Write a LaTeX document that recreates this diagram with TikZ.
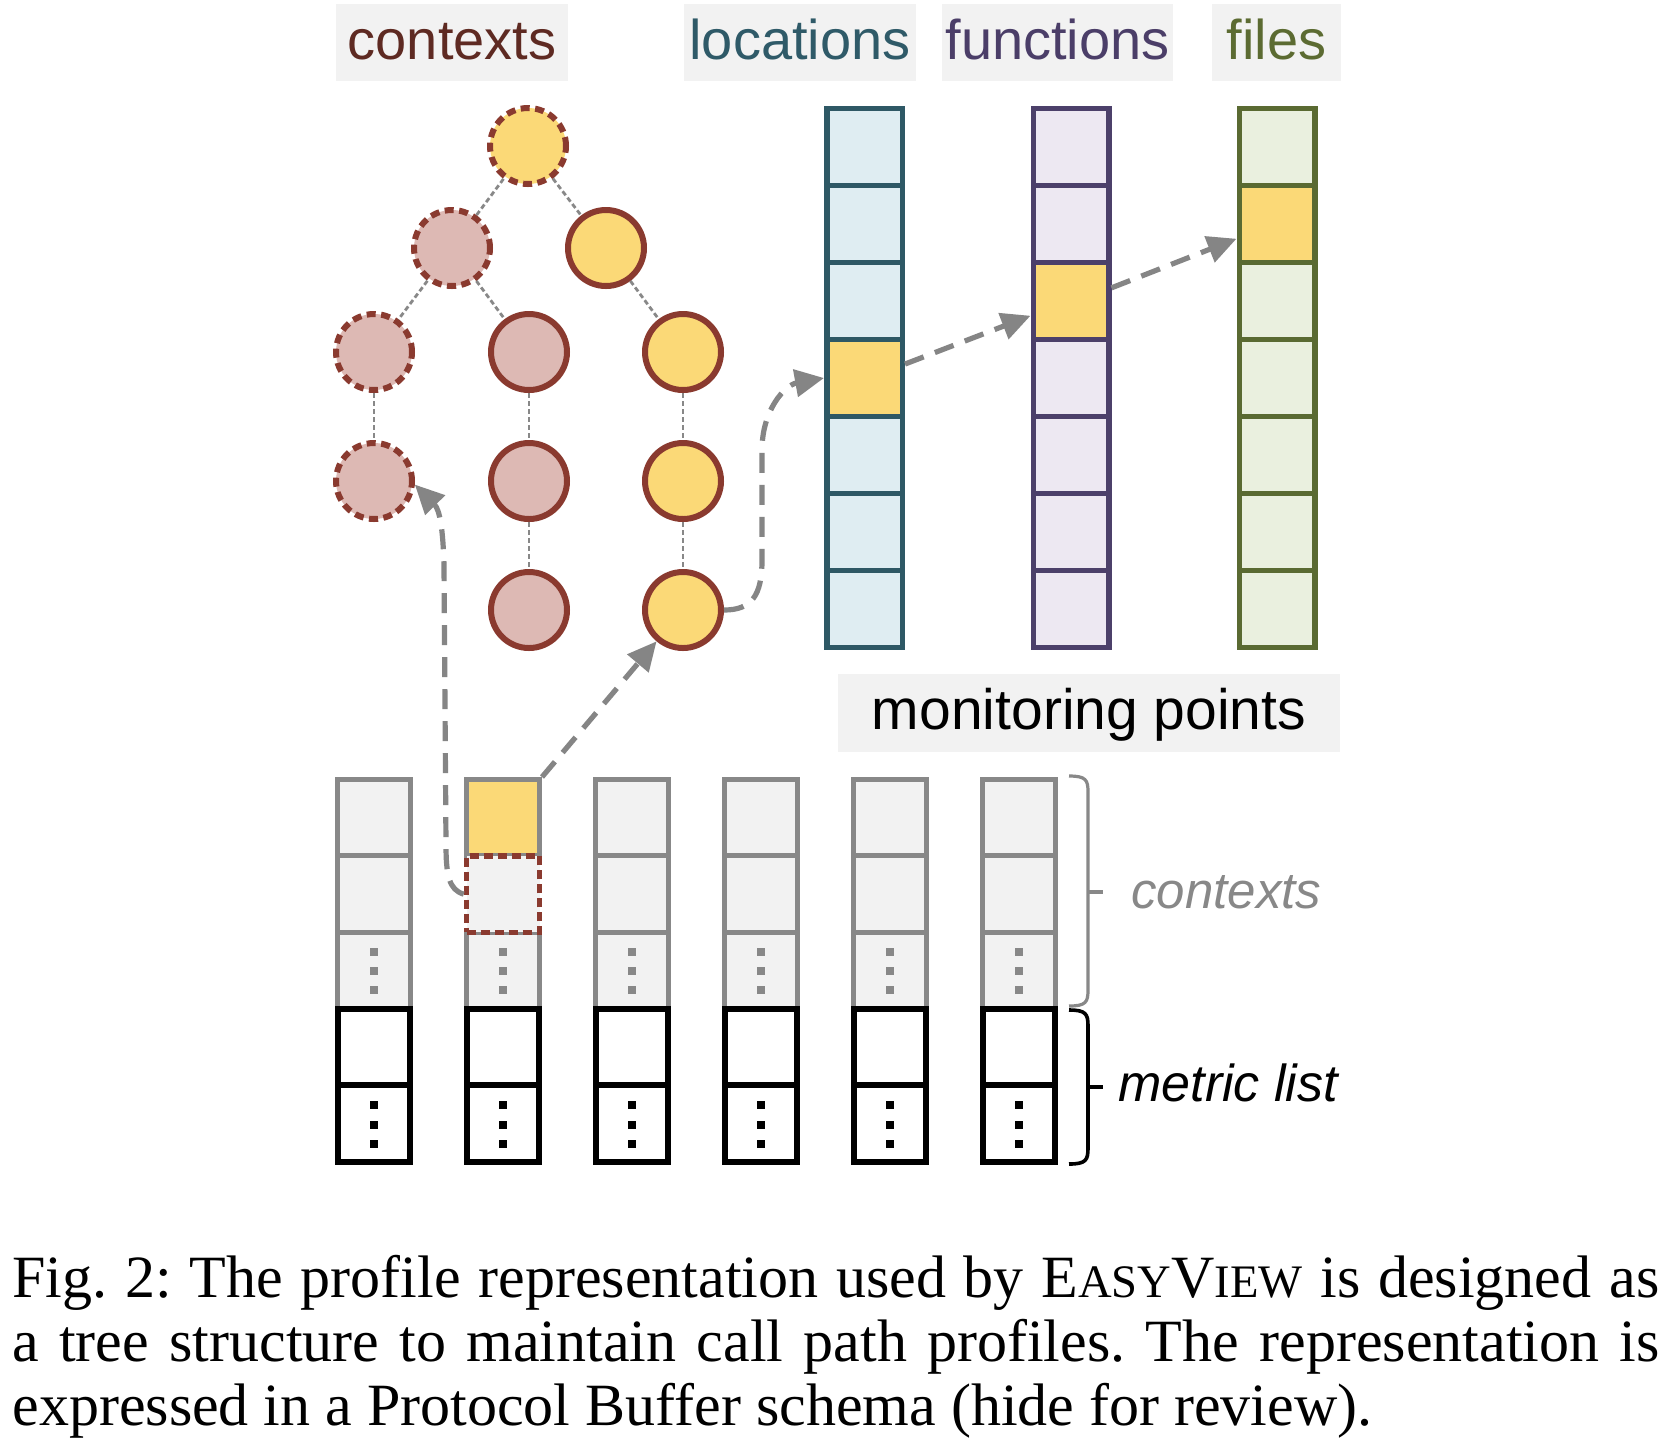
\documentclass[tikz,border=0pt]{standalone}
\usepackage{fontspec}
\setmainfont{Liberation Serif}
\newfontfamily\lsans{Liberation Sans}
\usetikzlibrary{arrows.meta,calc}

\definecolor{labbg}{HTML}{F2F2F2}
\definecolor{ctxtxt}{HTML}{5E2A22}
\definecolor{loctxt}{HTML}{2F5A68}
\definecolor{funtxt}{HTML}{4B3E68}
\definecolor{filtxt}{HTML}{5C6B32}
\definecolor{locline}{HTML}{2E5865}
\definecolor{locfill}{HTML}{DFEDF2}
\definecolor{funline}{HTML}{4C406A}
\definecolor{funfill}{HTML}{EDE8F2}
\definecolor{filline}{HTML}{5A6A32}
\definecolor{filfill}{HTML}{EAF0DF}
\definecolor{hiyellow}{HTML}{FBD977}
\definecolor{pinkfill}{HTML}{DDB9B4}
\definecolor{brownline}{HTML}{8A3A2F}
\definecolor{arrowgray}{HTML}{858585}
\definecolor{cellgray}{HTML}{888888}
\definecolor{cellfill}{HTML}{F2F2F2}

\newcommand\evsc{E{\fontsize{23.3}{24}\selectfont ASY}V{\fontsize{23.3}{24}\selectfont IEW}}
\frenchspacing

\begin{document}
\begin{tikzpicture}[x=0.5pt,y=-0.5pt,
  toplab/.style={fill=labbg, inner sep=0pt, minimum height=38.5pt,
    font=\lsans\fontsize{28}{32}\selectfont, text height=19.6pt, text depth=2.8pt},
  colcell/.style={line width=2.75pt, minimum width=37.75pt, minimum height=38.5pt, inner sep=0pt, draw},
  mpgray/.style={draw=cellgray, fill=cellfill, line width=2.5pt, minimum width=36.5pt,
    minimum height=38.2pt, inner sep=0pt},
  mpyellow/.style={mpgray, fill=hiyellow},
  mpdash/.style={mpgray, draw=brownline, line width=2.75pt, dash pattern=on 4.5pt off 2.5pt,
    preaction={draw=white, line width=2.75pt}},
  mpblack/.style={draw=black, fill=white, line width=3pt, minimum width=36.25pt,
    minimum height=38.2pt, inner sep=0pt},
  circ/.style={circle, draw=brownline, line width=3pt, minimum size=38pt, inner sep=0pt},
  pinkc/.style={circ, fill=pinkfill},
  yelc/.style={circ, fill=hiyellow},
  dsh/.style={dash pattern=on 4.5pt off 2.75pt},
  treeedge/.style={draw=cellgray, line width=1.4pt, dash pattern=on 2.5pt off 1.5pt},
  arr/.style={draw=arrowgray, line width=2.6pt, dash pattern=on 10pt off 6pt,
    -{Triangle[length=14.5pt,width=13.5pt]}},
  sidelab/.style={anchor=base west, inner sep=0pt, font=\lsans\itshape\fontsize{26}{30}\selectfont},
  capline/.style={anchor=base west, inner sep=0pt, font=\fontsize{30}{32}\selectfont}
]
\fill[white] (0,0) rectangle (1676,1448);
\useasboundingbox (0,0) rectangle (1676,1448);

% top labels
\node[toplab, minimum width=116pt, text=ctxtxt] (lctx) at (452,42.5) {contexts};
\node[toplab, minimum width=116pt, text=loctxt] (lloc) at (800,42.5) {locations};
\node[toplab, minimum width=115.5pt, text=funtxt] (lfun) at (1057.5,42.5) {functions};
\node[toplab, minimum width=64.5pt, text=filtxt] (lfil) at (1276.5,42.5) {files};

% location / function / file columns
\foreach \cc/\xx/\hirow in {loc/864.5/4, fun/1071/3, fil/1277/2} {
  \foreach \i in {1,...,7} {
    \pgfmathsetmacro\cy{147+77*(\i-1)}
    \ifnum\i=\hirow \def\ff{hiyellow}\else\edef\ff{\cc fill}\fi
    \node[colcell, draw=\cc line, fill=\ff] (\cc\i) at (\xx,\cy) {};
  }
}

% tree of contexts
\node[yelc, dsh] (root) at (528,146) {};
\node[pinkc, dsh] (a1) at (452,248) {};
\node[yelc] (a2) at (606,248) {};
\node[pinkc, dsh] (b1) at (374,352) {};
\node[pinkc] (b2) at (529,352) {};
\node[yelc] (b3) at (683,352) {};
\node[pinkc, dsh] (c1) at (374,481) {};
\node[pinkc] (c2) at (529,481) {};
\node[yelc] (c3) at (683,481) {};
\node[pinkc] (d2) at (529,610) {};
\node[yelc] (d3) at (683,610) {};

\draw[treeedge] (root) -- (a1);
\draw[treeedge] (root) -- (a2);
\draw[treeedge] (a1) -- (b1);
\draw[treeedge] (a1) -- (b2);
\draw[treeedge] (a2) -- (b3);
\draw[treeedge] (b1) -- (c1);
\draw[treeedge] (b2) -- (c2);
\draw[treeedge] (b3) -- (c3);
\draw[treeedge] (c2) -- (d2);
\draw[treeedge] (c3) -- (d3);

% monitoring points label
\node[toplab, minimum width=251pt, minimum height=39pt, text=black,
  font=\lsans\fontsize{28.5}{32}\selectfont] (lmp) at (1089,713) {monitoring points};

% monitoring point columns
\foreach \j in {1,...,6} {
  \foreach \k in {1,3,2,4,5} {
    \pgfmathsetmacro\cy{779.5+76.4*(\k-0.5)}
    \pgfmathsetmacro\cxx{374+129*(\j-1)}
    \ifnum\k>3 \def\st{mpblack}\else\def\st{mpgray}\fi
    \ifnum\j=2 \ifnum\k=1 \def\st{mpyellow}\fi\ifnum\k=2 \def\st{mpdash}\fi\fi
    \node[\st] (mp\j r\k) at (\cxx,\cy) {};
  }
}
\foreach \j in {1,...,6} {
  \foreach \d in {-18.5,0.5,19.5} {
    \fill[cellgray] ($(mp\j r3)+(-4,\d-4)$) rectangle +(8,8);
  }
  \foreach \d in {-18,2,21} {
    \fill[black] ($(mp\j r5)+(-4,\d-4)$) rectangle +(8,8);
  }
}

% braces
\draw[cellgray, line width=1.6pt] (1069,776) .. controls (1086,776) and (1088,780) .. (1088,792)
  -- (1088,990) .. controls (1088,1002) and (1086,1006) .. (1069,1006);
\draw[cellgray, line width=1.6pt] (1088,892) -- (1103,892);
\draw[black, line width=1.8pt] (1069,1010) .. controls (1086,1010) and (1088,1014) .. (1088,1026)
  -- (1088,1148) .. controls (1088,1160) and (1086,1164) .. (1069,1164);
\draw[black, line width=1.8pt] (1088,1087) -- (1103,1087);

\node[sidelab, text=cellgray, font=\lsans\itshape\fontsize{25.5}{30}\selectfont] (sctx) at (1131,908) {contexts};
\node[sidelab, text=black] (smet) at (1118,1101) {metric list};

% arrows
\draw[arr] (d3.east) .. controls (752,610) and (762,595) .. (762,560)
  -- (762,450) .. controls (762,410) and (785,385) .. (loc4.west);
\draw[arr] (mp2r1.north east) -- (d3);
\draw[arr] (mp2r2.west) .. controls (449,890) and (446,875) .. (446,845)
  -- (444,565) .. controls (443,530) and (440,510) .. (c1.-5);
\draw[arr] (loc4.19) -- (fun3.200);
\draw[arr] (fun3.18) -- (fil2.200);

% caption
\node[capline] (cap1) at (12,1297) {\makebox[823.5pt][s]{Fig. 2: The profile representation used by \evsc{} is designed as}};
\node[capline] (cap2) at (12,1361) {\makebox[823.5pt][s]{a tree structure to maintain call path profiles. The representation is}};
\node[capline] (cap3) at (12,1425) {expressed in a Protocol Buffer schema (hide for review).};
\end{tikzpicture}
\end{document}
